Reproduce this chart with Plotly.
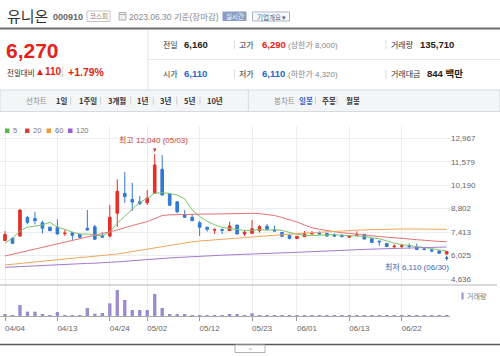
import plotly.graph_objects as go

W, H = 500, 356

# ---------------- data ----------------
dates = ['04/04','04/05','04/06','04/07','04/10','04/11','04/12','04/13','04/14','04/17',
         '04/18','04/19','04/20','04/21','04/24','04/25','04/26','04/27','04/28',
         '05/02','05/03','05/04','05/08','05/09','05/10','05/11','05/12','05/15','05/16',
         '05/17','05/18','05/19','05/22','05/23','05/24','05/25','05/26','05/30','05/31',
         '06/01','06/02','06/05','06/07','06/08','06/09','06/12','06/13','06/14','06/15',
         '06/16','06/19','06/20','06/21','06/22','06/23','06/26','06/27','06/28','06/29','06/30']
opens  = [6910,7050,7180,8290,8210,7970,7700,7700,7320,7380,
          7280,7640,7730,7220,7180,8530,9710,9350,9210,
          9150,9710,11130,9670,9210,8430,8290,7970,7700,7530,
          7560,7500,7830,7300,7340,7500,7760,7530,7390,7230,
          7030,7140,7300,7370,7340,7240,7220,7110,7230,7280,
          7020,6880,6740,6540,6560,6600,6530,6420,6360,6300,6110]
highs  = [7480,7100,8770,8350,8620,8080,7730,8170,7540,7440,
          7300,8720,7830,7400,9020,10540,10970,10340,9550,
          9900,12040,11980,9700,9250,8720,8470,8080,7720,7640,
          7620,8030,7850,7540,8130,7830,7890,7790,7420,7250,
          7180,7480,7480,7450,7360,7340,7300,7200,7460,7300,
          7040,6900,6760,6680,6700,6750,6730,6500,6400,6320,6290]
lows   = [6880,6700,7150,7880,7870,7340,7460,7270,7180,6950,
          7020,7500,6950,7080,7100,7730,9150,8660,9050,
          9020,9700,9580,8970,8530,8250,8060,7180,7440,7300,
          7300,7480,7280,7180,7320,7380,7540,7470,7150,7000,
          7000,7120,7280,7280,7150,7160,7120,7080,7200,6990,
          6780,6600,6540,6440,6460,6430,6380,6370,6270,6150,6110]
closes = [7270,6750,8720,7990,8090,7640,7500,7300,7350,7220,
          7110,7540,6990,7110,8290,9830,9510,9190,9080,
          9430,11390,9610,9000,8620,8290,8090,7700,7580,7560,
          7520,7770,7300,7400,7610,7730,7580,7480,7160,7030,
          7160,7330,7330,7300,7180,7180,7140,7180,7260,7000,
          6800,6840,6560,6580,6600,6560,6380,6380,6290,6160,6270]
volumes = [600000,300000,3300000,1300000,1300000,600000,300000,1200000,200000,200000,
           200000,2400000,700000,900000,3800000,7800000,4800000,1800000,1800000,
           1800000,6600000,2400000,600000,600000,400000,300000,200000,200000,200000,
           150000,600000,400000,300000,800000,300000,300000,250000,150000,150000,
           120000,150000,150000,130000,120000,120000,110000,120000,250000,130000,
           140000,120000,130000,110000,100000,100000,120000,100000,110000,120000,135710]
ma5 = [6750,7060,7480,7710,7764,7838,7988,7704,7576,7402,
       7296,7304,7242,7194,7408,7952,8346,8786,9180,9408,
       9720,9740,9702,9610,9382,8722,8340,8056,7844,7690,
       7626,7546,7510,7520,7562,7524,7560,7512,7396,7282,
       7232,7202,7230,7260,7264,7226,7196,7188,7152,7076,
       7016,6892,6756,6676,6628,6536,6500,6442,6354,6296]
ma20 = [5998,6098,6205,6305,6412,6507,6601,6702,6809,6909,
        7016,7116,7223,7324,7430,7537,7679,7815,7922,8028,
        8218,8395,8437,8454,8466,8472,8478,8484,8484,8496,
        8508,8520,8526,8526,8508,8472,8395,8277,8158,8010,
        7833,7667,7578,7501,7418,7371,7341,7282,7229,7193,
        7152,7122,7105,7045,7004,6963,6921,6886,6862,6844]
ma60 = [5465,5512,5565,5613,5660,5708,5761,5802,5838,5873,
        5909,5944,5980,6021,6057,6116,6187,6258,6329,6394,
        6495,6578,6649,6720,6785,6838,6886,6921,6963,7004,
        7045,7087,7122,7152,7182,7211,7241,7264,7294,7324,
        7353,7383,7407,7430,7460,7484,7507,7525,7543,7560,
        7572,7584,7590,7596,7596,7596,7590,7590,7584,7578]
ma120 = [5329,5352,5382,5406,5429,5459,5483,5506,5518,5536,
         5548,5560,5571,5589,5601,5636,5678,5719,5761,5802,
         5832,5856,5885,5909,5938,5968,5992,6009,6027,6045,
         6063,6075,6092,6110,6128,6146,6163,6181,6199,6217,
         6240,6264,6288,6311,6329,6347,6365,6376,6394,6406,
         6418,6436,6448,6459,6471,6483,6495,6507,6519,6530]
price_ticks = [4636, 6025, 7413, 8802, 10190, 11579, 12967]
date_ticks = ['04/04','04/13','04/24','05/02','05/12','05/23','06/01','06/13','06/22']
ma_names = ['5', '20', '60', '120']

# ---------------- style ----------------
KR = "Noto Sans CJK KR"
NUM = "Liberation Sans, Noto Sans CJK KR"
RED = '#e2231a'
BLUE = '#2867c7'
C_UP = '#e2302a'
C_DN = '#3279d6'
MA_COL = ['#7cc46c', '#e57373', '#f4a65c', '#a27ad0']
LEG_COL = ['#5cb84a', '#e0403a', '#f39a36', '#9b5bd2']
GRID = '#eeeeee'


def X(p):
    return p / W


def Y(p):
    return 1 - p / H


anns = []
shapes = []


def txt(x, y, s, size=8, color='#333', bold=False, anchor='left', family=KR):
    anns.append(dict(x=X(x), y=Y(y), xref='paper', yref='paper',
                     text=('<b>%s</b>' % s) if bold else s, showarrow=False,
                     xanchor=anchor, yanchor='middle', borderpad=0,
                     font=dict(size=size, color=color, family=family)))


def rect(x0, y0, x1, y1, fill='rgba(0,0,0,0)', line=None, lw=0):
    shapes.append(dict(type='rect', xref='paper', yref='paper', x0=X(x0), x1=X(x1),
                       y0=Y(y1), y1=Y(y0), fillcolor=fill,
                       line=dict(color=line or fill, width=lw)))


def seg(x0, y0, x1, y1, color, w=1):
    shapes.append(dict(type='line', xref='paper', yref='paper', x0=X(x0), x1=X(x1),
                       y0=Y(y0), y1=Y(y1), line=dict(color=color, width=w)))


# ---------------- traces ----------------
fig = go.Figure()
for name, vals, col in zip(ma_names, [ma5, ma20, ma60, ma120], MA_COL):
    fig.add_trace(go.Scatter(x=dates, y=vals, mode='lines', name=name,
                             line=dict(color=col, width=1), hoverinfo='skip',
                             xaxis='x', yaxis='y'))
fig.add_trace(go.Candlestick(x=dates, open=opens, high=highs, low=lows, close=closes,
                             increasing=dict(line=dict(color=C_UP, width=1), fillcolor=C_UP),
                             decreasing=dict(line=dict(color=C_DN, width=1), fillcolor=C_DN),
                             whiskerwidth=0, xaxis='x', yaxis='y', hoverinfo='skip'))
fig.add_trace(go.Bar(x=dates, y=volumes, xaxis='x2', yaxis='y2', width=0.45,
                     marker=dict(color='#9d8bd0', line=dict(width=0)), hoverinfo='skip'))

# ---------------- header ----------------
txt(6, 15, '유니온', size=15, color='#333')
txt(52, 16.5, '000910', size=9, color='#666', bold=True, family=NUM)
rect(87, 11, 110, 21.5, fill='#ffffff', line='#c4c4c4', lw=1)
txt(98.5, 16.3, '코스피', size=6.5, color='#777', anchor='center')
rect(119, 12.5, 126, 20, fill='#eeeeee', line='#b0b0b0', lw=1)
seg(119, 14.5, 126, 14.5, '#b0b0b0', 1)
txt(128, 16.5, '2023.06.30 기준(장마감)', size=8.5, color='#888', family=NUM)
rect(222.5, 11.5, 246.5, 21, fill='#8d9cc5', line='#8d9cc5', lw=0)
txt(234.5, 16.3, '실시간', size=6.5, color='#ffffff', anchor='center')
rect(252.5, 12, 289.5, 21, fill='#f7f8fb', line='#aeb6c6', lw=1)
txt(271, 16.5, '기업개요 ▾', size=6.5, color='#55617a', anchor='center')
seg(0, 28.5, 500, 28.5, '#6e6e6e', 2)

# ---------------- info panel ----------------
seg(148, 30, 148, 90, '#e0e0e0', 1)
seg(148, 59.5, 500, 59.5, '#eaeaea', 1)
txt(5, 51, '6,270', size=21, color=RED, bold=True, family=NUM)
txt(6, 72, '전일대비', size=7.5, color='#333')
txt(33.5, 71.5, '▲110', size=10, color=RED, bold=True, family=NUM)
seg(62.5, 67, 62.5, 77, '#dddddd', 1)
txt(66.5, 72, '+1.79%', size=10.5, color=RED, bold=True, family=NUM)

rows = [(44.5, ['전일', '6,160', '#222', '고가', '6,290', RED, '(상한가 8,000)', '거래량', '135,710']),
        (74.0, ['시가', '6,110', BLUE, '저가', '6,110', BLUE, '(하한가 4,320)', '거래대금', '844 백만'])]
for y, r in rows:
    txt(161.5, y, r[0], size=8, color='#333')
    txt(182.5, y, r[1], size=9.5, color=r[2], bold=True, family=NUM)
    seg(234.5, y - 4.5, 234.5, y + 4.5, '#dddddd', 1)
    txt(238, y, r[3], size=8, color='#333')
    txt(261, y, r[4], size=9.5, color=r[5], bold=True, family=NUM)
    txt(287, y, r[6], size=8, color='#888', family=NUM)
    seg(386, y - 4.5, 386, y + 4.5, '#dddddd', 1)
    txt(390, y, r[7], size=8, color='#333')
    txt(419 if r[7] == '거래량' else 425.5, y, r[8], size=9.5, color='#222', bold=True, family=NUM)

# ---------------- toolbar ----------------
rect(0, 90, 500, 111.5, fill='#f4f5f7', line='#d6d9dd', lw=1)
seg(248.3, 90, 248.3, 111.5, '#d6d9dd', 1)
ty = 100.7
txt(25, ty, '선차트', size=7.5, color='#8a8a8a')
items = [(55, '1일'), (78, '1주일'), (107, '3개월'), (136, '1년'), (159, '3년'), (183, '5년'), (206, '10년')]
for xx, s in items:
    txt(xx, ty, s, size=7.5, color='#333', bold=True)
for sx in [70.7, 100.7, 130.7, 153.3, 176.7, 200]:
    seg(sx, ty - 4, sx, ty + 4, '#d0d0d0', 1)
txt(273, ty, '봉차트', size=7.5, color='#8a8a8a')
txt(297.5, ty, '일봉', size=7.5, color='#2f5fc0', bold=True)
seg(315.5, ty - 4, 315.5, ty + 4, '#d0d0d0', 1)
txt(321, ty, '주봉', size=7.5, color='#333', bold=True)
seg(337, ty - 4, 337, ty + 4, '#d0d0d0', 1)
txt(345, ty, '월봉', size=7.5, color='#333', bold=True)

# ---------------- MA legend ----------------
lx = [5, 25, 46.5, 68]
for xx, name, col in zip(lx, ma_names, LEG_COL):
    rect(xx, 128.5, xx + 4.5, 133, fill=col, line=col, lw=0)
    txt(xx + 7, 131, name, size=7.5, color='#777', family=NUM)

# ---------------- chart decorations ----------------
seg(0, 285, 497, 285, '#b5b5b5', 1)
seg(0, 344.5, 500, 344.5, '#5a5a5a', 1.5)
rect(235, 345, 265, 352.5, fill='#ffffff', line='#b0b0b0', lw=1)
txt(250, 349.5, '^', size=6, color='#888', anchor='center', family=NUM)
rect(461.5, 292.5, 463.5, 299.5, fill='#9d8bd0', line='#9d8bd0', lw=0)
txt(465.5, 296, '거래량', size=7, color='#777')

# high / low markers
anns.append(dict(x='05/03', y=Y(140), xref='x', yref='paper', text='최고 12,040 (05/03)',
                 showarrow=False, xanchor='center', yanchor='middle', xshift=-1.5, borderpad=0,
                 font=dict(size=8, color='#cc3d37', family=NUM)))
anns.append(dict(x='05/03', y=highs[dates.index('05/03')], xref='x', yref='y', text='',
                 showarrow=True, ax=0, ay=-7, standoff=2, arrowhead=2, arrowsize=0.7,
                 arrowwidth=1, arrowcolor='#cc3d37'))
anns.append(dict(x=X(449.5), y=Y(267), xref='paper', yref='paper', text='최저 6,110 (06/30)',
                 showarrow=False, xanchor='right', yanchor='middle', borderpad=0,
                 font=dict(size=8, color='#3568b0', family=NUM)))
anns.append(dict(x='06/30', y=lows[dates.index('06/30')], xref='x', yref='y', text='',
                 showarrow=True, ax=0, ay=8, standoff=1.5, arrowhead=2, arrowsize=0.7,
                 arrowwidth=1, arrowcolor='#3568b0'))

# ---------------- layout ----------------
p_top, p_bot = 126, 285
v_top, v_bot = 286, 316
slope = (12967 - 4636) / (279.0 - 138.3)
y_lo = 4636 - (p_bot - 279.0) * slope
y_hi = 4636 + (279.0 - p_top) * slope
spacing = 7.486
x_lo = -5 / spacing
x_hi = (450 - 5) / spacing

fig.update_layout(
    width=W, height=H, margin=dict(l=0, r=0, t=0, b=0, pad=0),
    paper_bgcolor='#ffffff', plot_bgcolor='#ffffff',
    showlegend=False, hovermode=False, boxgap=0.5,
    xaxis=dict(domain=[0, 0.9], anchor='y', type='category', range=[x_lo, x_hi],
               tickmode='array', tickvals=date_ticks, showticklabels=False,
               showgrid=True, gridcolor=GRID, gridwidth=1, zeroline=False,
               showline=False, rangeslider=dict(visible=False), fixedrange=True),
    yaxis=dict(domain=[Y(p_bot), Y(p_top)], anchor='x', side='right', range=[y_lo, y_hi],
               tickmode='array', tickvals=price_ticks, tickformat=',',
               showgrid=True, gridcolor=GRID, gridwidth=1, zeroline=False, showline=False,
               tickfont=dict(size=8, color='#666', family=NUM), ticks='', fixedrange=True),
    xaxis2=dict(domain=[0, 0.9], anchor='y2', type='category', matches='x', range=[x_lo, x_hi],
                tickmode='array', tickvals=date_ticks, ticks='outside', ticklen=4,
                tickcolor='#999', showline=True, linecolor='#aaaaaa', linewidth=1,
                showgrid=True, gridcolor=GRID, zeroline=False, ticklabelshift=10,
                tickfont=dict(size=8, color='#666', family=NUM), fixedrange=True),
    yaxis2=dict(domain=[Y(v_bot), Y(v_top)], anchor='x2', range=[0, 9000000],
                showticklabels=False, showgrid=False, zeroline=False, showline=False,
                fixedrange=True),
    annotations=anns, shapes=shapes,
)

fig.write_html("out.html", config={'displayModeBar': False},
               post_script="document.body.style.margin='0';document.body.style.overflow='hidden';")
